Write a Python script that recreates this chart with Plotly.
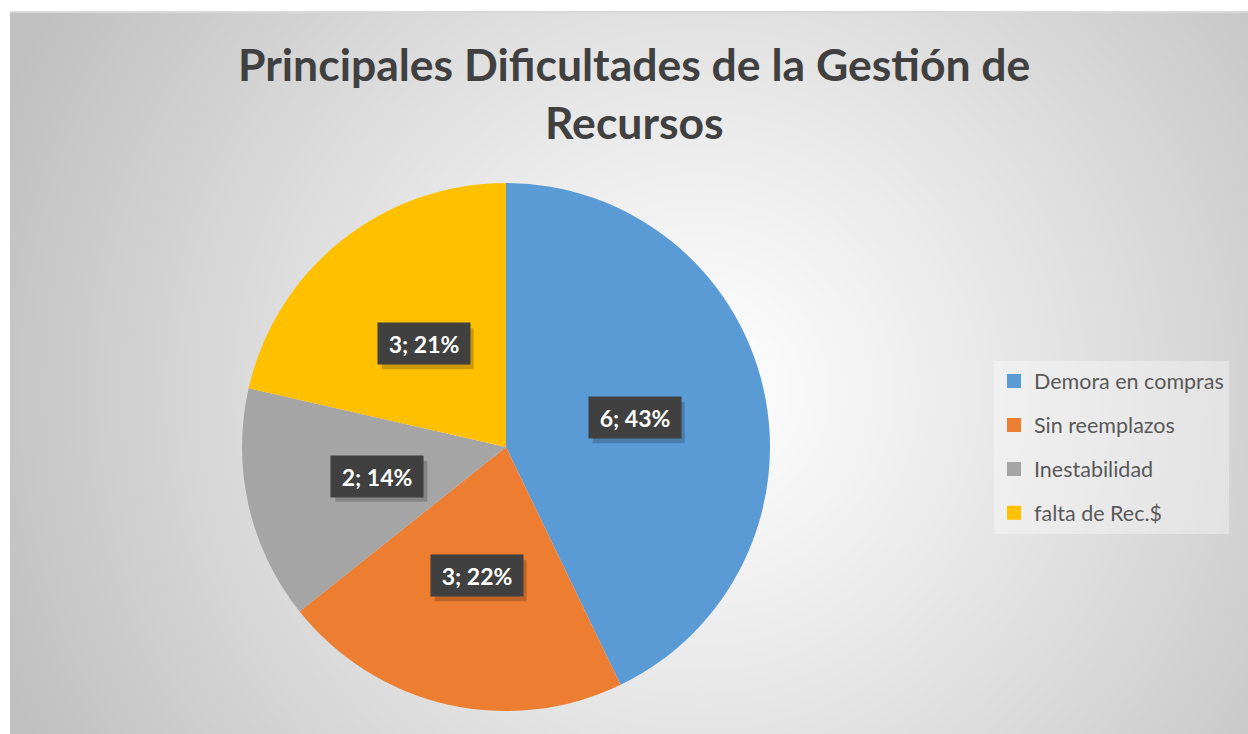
import base64, struct, zlib
import numpy as np
import plotly.graph_objects as go

# ---------------- data ----------------
categories = ["Demora en compras", "Sin reemplazos", "Inestabilidad", "falta de Rec.$"]
values = [6, 3, 2, 3]
pct_labels = ["43%", "22%", "14%", "21%"]
colors = ["#5B9BD5", "#ED7D31", "#A5A5A5", "#FFC000"]
title_lines = ["Principales Dificultades de la Gestión de", "Recursos"]

W, H = 1248, 734
FONT = "Lato"

# ---------------- background gradient image (PNG data URI) ----------------
def png_uri(arr):
    h, w, _ = arr.shape
    raw = b"".join(b"\x00" + arr[i].tobytes() for i in range(h))
    def chunk(tag, data):
        c = struct.pack(">I", len(data)) + tag + data
        return c + struct.pack(">I", zlib.crc32(tag + data) & 0xFFFFFFFF)
    png = (b"\x89PNG\r\n\x1a\n" + chunk(b"IHDR", struct.pack(">IIBBBBB", w, h, 8, 2, 0, 0, 0))
           + chunk(b"IDAT", zlib.compress(raw, 9)) + chunk(b"IEND", b""))
    return "data:image/png;base64," + base64.b64encode(png).decode()

x0_px, y0_px = 10, 12
gw, gh = (W - x0_px) // 2, (H - y0_px) // 2
yy, xx = np.mgrid[0:gh, 0:gw].astype(float)
px = x0_px + xx * 2
py = y0_px + yy * 2
cxg, cyg = 700.0, 390.0
d = np.sqrt((px - cxg) ** 2 + (py - cyg) ** 2) / 760.0
v = 255 - (255 - 192) * np.clip(d, 0, 1) ** 1.1
img = np.clip(np.stack([v, v, v], axis=-1), 0, 255).astype(np.uint8)
bg_uri = png_uri(img)

# ---------------- pie geometry ----------------
cx_px, cy_px, r_px = 506, 447, 264
dom_x = [(cx_px - r_px) / W, (cx_px + r_px) / W]
dom_y = [1 - (cy_px + r_px) / H, 1 - (cy_px - r_px) / H]

fig = go.Figure()
fig.add_trace(go.Pie(
    labels=categories, values=values, sort=False, direction="clockwise", rotation=0,
    marker=dict(colors=colors, line=dict(width=0)),
    textinfo="none", hoverinfo="label+value+percent", showlegend=False,
    domain=dict(x=dom_x, y=dom_y),
))

# legend entries (one group each, to control the vertical spacing)
for i, (cat, col) in enumerate(zip(categories, colors)):
    fig.add_trace(go.Scatter(
        x=[None], y=[None], mode="markers", name=cat, legendgroup=f"g{i}",
        marker=dict(symbol="square", size=14, color=col), showlegend=True,
    ))

# data labels at the middle of each slice
total = float(sum(values))
annotations, shapes = [], []
box_w, box_h = 92, 41
cum = 0.0
for v_, p_ in zip(values, pct_labels):
    mid = (cum + v_ / 2) / total * 2 * np.pi
    cum += v_
    rl = 0.5 * r_px
    lx = cx_px + rl * np.sin(mid)
    ly = cy_px - rl * np.cos(mid)
    # shadow
    shapes.append(dict(
        type="rect", xref="paper", yref="paper", layer="above",
        x0=(lx - box_w / 2 + 4) / W, x1=(lx + box_w / 2 + 4) / W,
        y0=1 - (ly + box_h / 2 + 5) / H, y1=1 - (ly - box_h / 2 + 5) / H,
        fillcolor="rgba(0,0,0,0.2)", line=dict(width=0),
    ))
    annotations.append(dict(
        x=lx / W, y=1 - ly / H, xref="paper", yref="paper", xanchor="center", yanchor="middle",
        text=f"<b>{v_}; {p_}</b>", showarrow=False,
        width=box_w - 12, height=box_h - 12, borderpad=6,
        bgcolor="#404040", font=dict(family=FONT, size=23, color="white"),
    ))

# title
for line, ypx in zip(title_lines, [64, 121]):
    annotations.append(dict(
        x=634 / W, y=1 - ypx / H, xref="paper", yref="paper", xanchor="center", yanchor="middle",
        text=f"<b>{line}</b>", showarrow=False,
        font=dict(family=FONT, size=44.5, color="#404040"),
    ))

shapes.append(dict(type="line", xref="paper", yref="paper", x0=x0_px / W, x1=1,
                   y0=1 - y0_px / H, y1=1 - y0_px / H, line=dict(color="#d9d9d9", width=2), layer="below"))

fig.update_layout(
    width=W, height=H, margin=dict(l=0, r=0, t=0, b=0),
    paper_bgcolor="white", plot_bgcolor="rgba(0,0,0,0)",
    xaxis=dict(visible=False), yaxis=dict(visible=False),
    images=[dict(source=bg_uri, xref="paper", yref="paper", x=x0_px / W, y=1 - y0_px / H,
                 sizex=1 - x0_px / W, sizey=1 - y0_px / H, xanchor="left", yanchor="top",
                 sizing="stretch", layer="below")],
    shapes=shapes,
    legend=dict(
        x=994 / W, y=1 - 447 / H, xanchor="left", yanchor="middle",
        bgcolor="rgba(255,255,255,0.35)", borderwidth=0,
        font=dict(family=FONT, size=21.5, color="#595959"),
        tracegroupgap=13, itemclick=False, itemdoubleclick=False,
    ),
    annotations=annotations,
    showlegend=True,
)

fig.write_html("out.html")
